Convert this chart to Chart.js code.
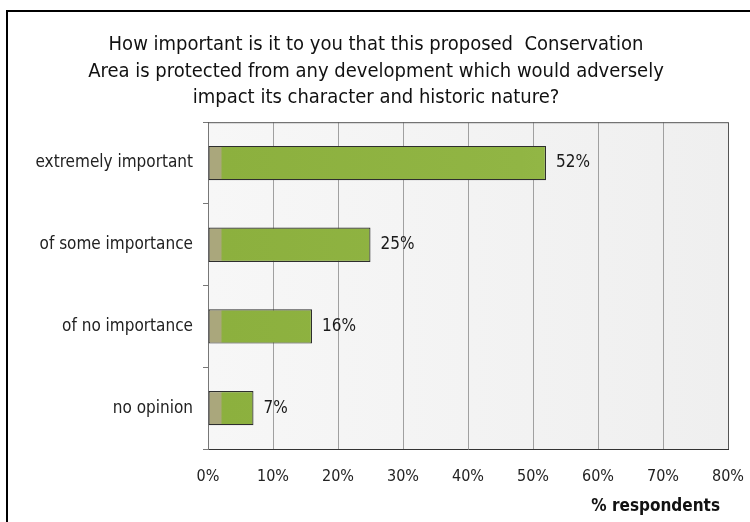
<!DOCTYPE html>
<html>
<head>
<meta charset="utf-8">
<script src="https://cdn.jsdelivr.net/npm/chart.js@4"></script>
<style>
  html, body { margin: 0; padding: 0; background: #fff; }
  #wrap { width: 750px; height: 522px; }
</style>
</head>
<body>
<div id="wrap"><canvas id="importanceChart" width="750" height="522"></canvas></div>
<script>
// survey answers, % of respondents
const answers = ['extremely important', 'of some importance', 'of no importance', 'no opinion'];
const respondents = [52, 25, 16, 7];
const percentTicks = [0, 10, 20, 30, 40, 50, 60, 70, 80];

const narrow = '"DejaVu Sans Condensed", "Liberation Sans Narrow", "Arial Narrow", sans-serif';

// green bar fill with the greyish strip on the left
function barFill(context) {
    const area = context.chart.chartArea;
    if (!area) return '#8db441';
    const g = context.chart.ctx.createLinearGradient(area.left, 0, area.left + 520, 0);
    g.addColorStop(0, '#aaa77c');
    g.addColorStop(0.024, '#aaa77c');
    g.addColorStop(0.028, '#8cb03e');
    g.addColorStop(0.6, '#91b544');
    g.addColorStop(1, '#9bbf4f');
    return g;
}

// page frame, plot background, plot box and axis caption
const framePlugin = {
    id: 'frame',
    beforeDraw(chart) {
        const { ctx, chartArea: a } = chart;
        ctx.save();
        ctx.strokeStyle = '#000';
        ctx.lineWidth = 2;
        ctx.strokeRect(7, 11, 760, 540);
        const bg = ctx.createLinearGradient(a.left, 0, a.right, 0);
        bg.addColorStop(0, '#f7f7f7');
        bg.addColorStop(1, '#efefef');
        ctx.fillStyle = bg;
        ctx.fillRect(a.left, a.top, a.right - a.left, a.bottom - a.top);
        ctx.restore();
    },
    afterDatasetsDraw(chart) {
        const { ctx, chartArea: a } = chart;
        ctx.save();
        ctx.lineWidth = 1;
        ctx.strokeStyle = '#555';
        ctx.beginPath();
        ctx.moveTo(a.left, a.top + 0.5);
        ctx.lineTo(a.right + 0.5, a.top + 0.5);
        ctx.lineTo(a.right + 0.5, a.bottom);
        ctx.stroke();

        ctx.font = 'bold 17px ' + narrow;
        ctx.fillStyle = '#111';
        ctx.textAlign = 'right';
        ctx.textBaseline = 'middle';
        ctx.fillText('% respondents', a.right - 8, a.bottom + 58);
        ctx.restore();
    }
};

// value labels at the end of each bar
const valueLabels = {
    id: 'valueLabels',
    afterDatasetsDraw(chart) {
        const { ctx } = chart;
        const meta = chart.getDatasetMeta(0);
        ctx.save();
        ctx.font = '17px ' + narrow;
        ctx.fillStyle = '#1a1a1a';
        ctx.textBaseline = 'middle';
        meta.data.forEach((bar, i) => {
            ctx.fillText(respondents[i] + '%', bar.x + 10, bar.y);
        });
        ctx.restore();
    }
};

new Chart(document.getElementById('importanceChart'), {
    type: 'bar',
    data: {
        labels: answers,
        datasets: [{
            data: respondents,
            backgroundColor: barFill,
            borderColor: '#2e2e2e',
            borderWidth: 1.2,
            borderSkipped: false,
            categoryPercentage: 1,
            barPercentage: 0.42
        }]
    },
    options: {
        indexAxis: 'y',
        responsive: false,
        animation: false,
        layout: { padding: { left: 24, right: 22, top: 0, bottom: 8 } },
        plugins: {
            legend: { display: false },
            tooltip: { enabled: false },
            title: {
                display: true,
                text: [
                    'How important is it to you that this proposed  Conservation',
                    'Area is protected from any development which would adversely',
                    'impact its character and historic nature?'
                ],
                color: '#111',
                font: { family: narrow, size: 20, weight: 'normal', lineHeight: 1.32 },
                padding: { top: 32, bottom: 11 }
            }
        },
        scales: {
            x: {
                min: 0,
                max: 80,
                afterBuildTicks(scale) {
                    scale.ticks = percentTicks.map(v => ({ value: v }));
                },
                afterFit(scale) {
                    scale.height = 65;
                    scale.paddingRight = 0;
                },
                ticks: {
                    color: '#222',
                    padding: 18,
                    font: { family: narrow, size: 16 },
                    callback: v => v + '%'
                },
                grid: { color: '#a0a0a0', drawTicks: false },
                border: { color: '#333', width: 1 }
            },
            y: {
                afterFit(scale) { scale.width = 184; },
                ticks: {
                    color: '#222',
                    padding: 10,
                    font: { family: narrow, size: 17 }
                },
                grid: { drawOnChartArea: false, tickLength: 5, color: '#777', offset: true },
                border: { color: '#777', width: 1 }
            }
        }
    },
    plugins: [framePlugin, valueLabels]
});
</script>
</body>
</html>
